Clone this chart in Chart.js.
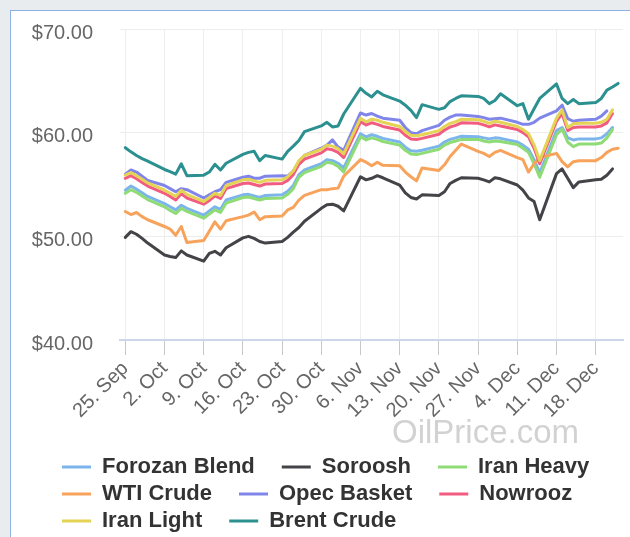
<!DOCTYPE html>
<html><head><meta charset="utf-8">
<script src="https://cdn.jsdelivr.net/npm/chart.js@4"></script>
<style>
html,body{margin:0;padding:0;overflow:hidden;width:630px;height:537px;background:#e9ecef;}
#panel{position:absolute;left:10px;top:10px;width:640px;height:560px;background:#fff;border-left:1px solid #8eb0e2;border-top:1px solid #8eb0e2;}
#c{position:absolute;left:11px;top:11px;}
</style></head><body>
<div id="panel"></div>
<canvas id="c" width="619" height="531"></canvas>
<script>
const dates = [
 '09-25','09-26','09-27','09-28','09-29',
 '10-02','10-03','10-04','10-05','10-06',
 '10-09','10-10','10-11','10-12','10-13',
 '10-16','10-17','10-18','10-19','10-20',
 '10-23','10-24','10-25','10-26','10-27',
 '10-30','10-31','11-01','11-02','11-03',
 '11-06','11-07','11-08','11-09','11-10',
 '11-13','11-14','11-15','11-16','11-17',
 '11-20','11-21','11-22','11-23','11-24',
 '11-27','11-28','11-29','11-30','12-01',
 '12-04','12-05','12-06','12-07','12-08',
 '12-11','12-12','12-13','12-14','12-15',
 '12-18','12-19','12-20','12-21','12-22'];

const tickDates  = ['09-25','10-02','10-09','10-16','10-23','10-30','11-06','11-13','11-20','11-27','12-04','12-11','12-18'];
const tickLabels = ['25. Sep','2. Oct','9. Oct','16. Oct','23. Oct','30. Oct','6. Nov','13. Nov','20. Nov','27. Nov','4. Dec','11. Dec','18. Dec'];

const forozanBlend = [
 54.45,54.85,54.55,54.2,53.85, 53.15,52.85,52.55,53.0,52.7, 52.05,52.45,52.85,52.6,53.5,
 54.0,54.05,53.9,53.75,53.95, 54.0,54.35,54.9,55.95,56.4, 57.0,57.4,57.3,57.05,56.6,
 59.9,59.6,59.8,59.65,59.45, 59.1,58.6,58.25,58.2,58.3, 58.7,59.1,59.35,59.5,59.65,
 59.6,59.5,59.4,59.5,59.45, 59.1,58.8,58.4,57.4,56.1, 60.2,60.5,59.5,59.3,59.4,
 59.4,59.5,59.9,60.5,null];
const soroosh = [
 49.9,50.45,50.2,49.8,49.35, 48.2,48.05,47.95,48.6,48.2, 47.6,48.35,48.55,48.2,48.9,
 49.85,50.0,49.8,49.5,49.35, 49.5,49.9,50.4,50.85,51.45, 52.7,53.05,53.1,52.9,52.45,
 55.75,55.45,55.6,55.85,55.65, 54.95,54.2,53.75,53.6,54.0, 53.95,54.3,55.1,55.4,55.65,
 55.6,55.45,55.25,55.65,55.55, 54.95,54.45,53.7,53.35,51.6, 56.05,56.5,55.6,54.7,55.25,
 55.45,55.5,55.9,56.5,null];
const iranHeavy = [
 54.15,54.5,54.25,53.9,53.55, 52.85,52.5,52.2,52.7,52.4, 51.75,52.15,52.55,52.3,53.2,
 53.75,53.8,53.65,53.5,53.65, 53.7,54.05,54.6,55.7,56.15, 56.75,57.15,57.05,56.75,56.2,
 59.6,59.3,59.5,59.35,59.15, 58.8,58.3,57.95,57.9,58.0, 58.4,58.8,59.05,59.2,59.35,
 59.35,59.2,59.1,59.2,59.15, 58.85,58.5,58.1,57.0,55.7, 59.8,60.35,59.1,58.65,58.9,
 58.9,59.0,59.5,60.3,null];
const wtiCrude = [
 52.4,52.1,52.3,51.9,51.6, 50.95,50.7,50.1,50.95,49.4, 49.6,50.5,51.4,50.7,51.5,
 51.9,52.05,52.35,51.6,51.9, 51.95,52.55,52.8,53.5,53.95, 54.5,54.5,54.6,54.65,55.8,
 57.4,57.15,56.8,57.15,56.85, 56.8,56.2,55.75,55.35,56.6, 56.35,56.9,57.7,58.3,58.9,
 58.2,58.0,57.7,58.1,58.3, 57.6,57.4,56.2,57.0,57.6, 58.0,57.2,56.7,57.2,57.3,
 57.3,57.6,58.1,58.4,58.5];
const opecBasket = [
 56.0,56.4,56.2,55.8,55.4, 54.9,54.6,54.3,54.6,54.5, 53.7,54.0,54.3,54.5,55.2,
 55.7,55.8,55.6,55.6,55.8, 55.85,55.8,56.3,57.2,57.8, 58.5,58.8,59.3,58.6,58.3,
 61.9,61.7,61.85,61.6,61.4, 61.2,60.5,60.0,59.9,60.2, 60.7,61.2,61.5,61.7,61.7,
 61.55,61.45,61.3,61.35,61.4, 61.0,60.8,60.8,61.0,61.4, 62.1,62.65,61.35,61.1,61.2,
 61.3,61.6,62.1,null,null];
const nowrooz = [
 55.6,55.85,55.55,55.2,54.85, 54.15,53.85,53.5,54.1,53.7, 53.1,53.45,53.9,53.65,54.6,
 55.1,55.15,55.0,54.85,55.05, 55.1,55.4,55.95,56.95,57.45, 58.05,58.45,58.35,58.1,57.6,
 61.05,60.75,60.95,60.8,60.6, 60.25,59.75,59.4,59.35,59.45, 59.85,60.25,60.55,60.7,60.95,
 60.9,60.75,60.55,60.75,60.65, 60.3,60.0,59.6,58.5,57.0, 61.1,61.85,60.2,60.5,60.55,
 60.55,60.65,60.95,61.85,null];
const iranLight = [
 55.9,56.15,55.85,55.5,55.15, 54.45,54.15,53.85,54.45,54.05, 53.35,53.75,54.15,53.95,54.9,
 55.45,55.5,55.35,55.2,55.4, 55.45,55.75,56.3,57.3,57.8, 58.4,58.8,58.7,58.45,57.95,
 61.4,61.05,61.3,61.2,61.0, 60.6,60.1,59.75,59.7,59.8, 60.2,60.6,60.9,61.05,61.3,
 61.25,61.1,60.9,61.1,61.0, 60.6,60.3,59.9,58.8,57.3, 61.4,62.2,60.5,60.85,60.9,
 60.9,61.0,61.3,62.2,null];
const brentCrude = [
 58.55,58.15,57.8,57.5,57.25, 56.45,56.25,56.0,57.0,55.85, 55.9,56.2,56.95,56.4,57.05,
 57.9,58.1,58.2,57.3,57.8, 57.45,58.2,58.7,59.25,60.1, 60.65,61.0,60.55,60.65,61.8,
 64.28,63.8,63.45,64.0,63.65, 63.05,62.65,62.15,61.45,62.7, 62.25,62.4,63.0,63.3,63.55,
 63.5,63.3,62.8,63.1,63.75, 62.6,62.8,61.3,62.3,63.3, 64.7,63.3,62.8,63.2,62.8,
 62.9,63.3,64.1,64.4,64.75];

const seriesNames  = ['Forozan Blend','Soroosh','Iran Heavy','WTI Crude','Opec Basket','Nowrooz','Iran Light','Brent Crude'];
const seriesValues = [forozanBlend, soroosh, iranHeavy, wtiCrude, opecBasket, nowrooz, iranLight, brentCrude];
const seriesColors = ['#7cb5ec','#434348','#8fdc76','#f7a35c','#8085e9','#f15c80','#e4d354','#2b908f'];

const yTicks = [40, 50, 60, 70];

const dayOf = s => (Date.UTC(2017, +s.slice(0,2) - 1, +s.slice(3)) - Date.UTC(2017, 8, 25)) / 864e5;

Chart.defaults.font.family = '"Liberation Sans", Arial, sans-serif';

const datasets = seriesNames.map((name, k) => ({
  label: name,
  data: dates.map((d, i) => ({ x: dayOf(d), y: seriesValues[k][i] })),
  borderColor: seriesColors[k],
  backgroundColor: seriesColors[k],
  borderWidth: 3,
  pointRadius: 0,
  pointHoverRadius: 0,
  tension: 0,
  fill: false,
  borderJoinStyle: 'round',
  borderCapStyle: 'round',
  order: seriesNames.length - 1 - k
}));

const watermark = {
  id: 'watermark',
  afterDraw(chart) {
    const ctx = chart.ctx;
    ctx.save();
    ctx.font = '33px "Liberation Sans", Arial, sans-serif';
    ctx.fillStyle = '#d2d2d2';
    ctx.textBaseline = 'alphabetic';
    ctx.textAlign = 'left';
    ctx.fillText('OilPrice.com', 381, 432);
    ctx.restore();
  }
};

const legendShift = {
  id: 'legendShift',
  afterLayout(chart) { chart.legend.left = 46; }
};

new Chart(document.getElementById('c'), {
  type: 'line',
  data: { datasets },
  plugins: [watermark, legendShift],
  options: {
    responsive: false,
    animation: false,
    layout: { padding: { left: 5, right: 7, top: 18, bottom: 0 } },
    plugins: {
      tooltip: { enabled: false },
      legend: {
        position: 'bottom',
        align: 'start',
        labels: {
          color: '#333333',
          font: { size: 22, weight: 'bold' },
          boxWidth: 29,
          boxHeight: 3,
          padding: 5,
          sort: (a, b) => a.datasetIndex - b.datasetIndex,
          generateLabels(chart) {
            return Chart.defaults.plugins.legend.labels.generateLabels(chart).map(it => {
              const c = chart.data.datasets[it.datasetIndex].borderColor;
              return Object.assign(it, { text: it.text + '\u2002\u2002', fillStyle: c, strokeStyle: c, lineWidth: 0 });
            });
          }
        }
      }
    },
    scales: {
      x: {
        type: 'linear',
        min: -0.946,
        max: 88.875,
        afterBuildTicks(scale) { scale.ticks = tickDates.map(t => ({ value: dayOf(t) })); },
        afterFit(scale) { scale.height = 111; scale.paddingLeft = 0; scale.paddingRight = 0; },
        border: { color: '#ccd6eb', width: 2 },
        grid: { color: '#ededed', tickColor: '#c8c8c8', tickLength: 15, lineWidth: 1 },
        ticks: {
          autoSkip: false, maxRotation: 45, minRotation: 45,
          color: '#666666', font: { size: 20 }, padding: 2,
          callback: v => tickLabels[tickDates.findIndex(t => dayOf(t) === v)]
        }
      },
      y: {
        min: yTicks[0],
        max: yTicks[yTicks.length - 1],
        afterBuildTicks(scale) { scale.ticks = yTicks.map(v => ({ value: v })); },
        afterFit(scale) { scale.width = 104; scale.paddingTop = 0; scale.paddingBottom = 0; },
        border: { display: false },
        grid: { color: '#ededed', drawTicks: false, lineWidth: 1 },
        ticks: {
          color: '#666666', font: { size: 20 }, padding: 27, labelOffset: 4,
          callback: v => '$' + v.toFixed(2)
        }
      }
    }
  }
});
</script></body></html>
